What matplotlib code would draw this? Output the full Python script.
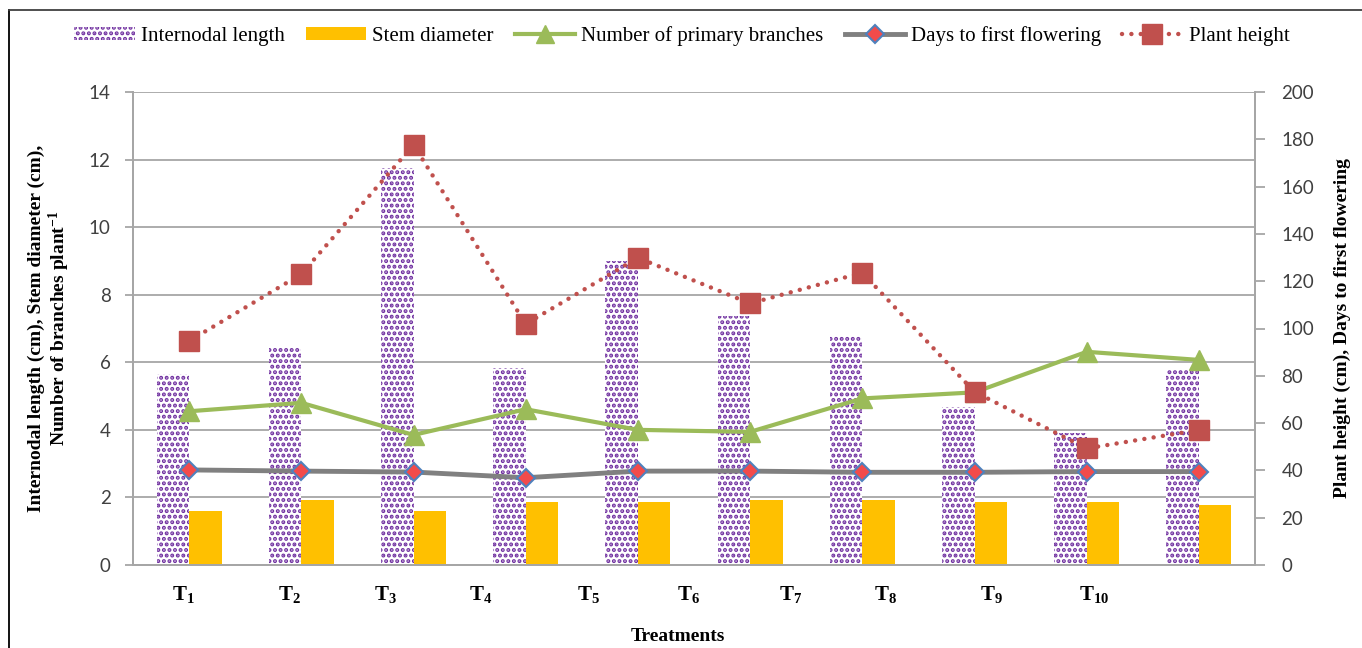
import matplotlib
matplotlib.use("Agg")
import matplotlib.pyplot as plt
import numpy as np
from matplotlib.lines import Line2D
from matplotlib.patches import Patch

treatments = ["T$_{1}$", "T$_{2}$", "T$_{3}$", "T$_{4}$", "T$_{5}$",
              "T$_{6}$", "T$_{7}$", "T$_{8}$", "T$_{9}$", "T$_{10}$"]
internodal_length = [5.64, 6.44, 11.74, 5.82, 9.00, 7.38, 6.79, 4.67, 3.90, 5.79]
stem_diameter = [1.61, 1.92, 1.61, 1.86, 1.86, 1.92, 1.92, 1.86, 1.86, 1.77]
primary_branches = [4.55, 4.80, 3.85, 4.61, 4.00, 3.94, 4.93, 5.11, 6.31, 6.07]
days_to_flowering = [40.2, 39.7, 39.3, 36.9, 39.7, 39.7, 39.2, 39.2, 39.5, 39.5]
plant_height = [94.7, 123.0, 177.6, 101.9, 129.9, 110.6, 123.6, 73.2, 49.3, 57.1]

# layout: the original x tick labels are offset from the groups
label_pos = [-0.05, 0.89, 1.75, 2.60, 3.56, 4.45, 5.36, 6.21, 7.15, 8.07]

plt.rcParams['hatch.linewidth'] = 2.0
plt.rcParams['hatch.color'] = '#7030A0'

serif = ['Liberation Serif', 'DejaVu Serif']
sans = ['Lato', 'Open Sans', 'DejaVu Sans']
plt.rcParams['mathtext.fontset'] = 'custom'
plt.rcParams['mathtext.rm'] = 'Liberation Serif:bold'
plt.rcParams['mathtext.it'] = 'Liberation Serif:bold'
plt.rcParams['mathtext.bf'] = 'Liberation Serif:bold'

fig = plt.figure(figsize=(13.62, 6.48), dpi=100)
ax = fig.add_axes([133/1362, 1-565/648, (1255-133)/1362, (565-92)/648])
ax2 = ax.twinx()

x = np.arange(len(treatments))
w = 0.29
ax.bar(x - w/2, internodal_length, w, facecolor='white', edgecolor='#7030A0',
       hatch='...', linewidth=0, zorder=2)
ax.bar(x + w/2, stem_diameter, w, color='#FFC000', linewidth=0, zorder=2)
ax.plot(x, primary_branches, color='#9BBB59', lw=3, marker='^', ms=15,
        markerfacecolor='#9BBB59', markeredgecolor='#9BBB59', zorder=4)

ax2.plot(x, days_to_flowering, color='#808080', lw=3.5, marker='D', ms=9,
         markerfacecolor='#F24B4B', markeredgecolor='#4F81BD', markeredgewidth=1.5, zorder=4)
ax2.plot(x, plant_height, color='#C0504D', lw=3.2, ls=(0, (0.01, 2.1)),
         dash_capstyle='round', marker='s', ms=15, markerfacecolor='#C0504D',
         markeredgecolor='#C0504D', zorder=5)

ax.set_xlim(-0.5, 9.5)
ax.set_ylim(0, 14)
ax.set_yticks(np.arange(0, 15, 2))
ax2.set_ylim(0, 200)
ax2.set_yticks(np.arange(0, 201, 20))

ax.yaxis.grid(True, color='#A6A6A6', lw=1.3)
ax.set_axisbelow(True)
ax.set_zorder(ax2.get_zorder() - 1)
ax.patch.set_visible(True)
ax2.patch.set_visible(False)

for a in (ax, ax2):
    a.spines['top'].set_visible(False)
    for s in ('left', 'right', 'bottom'):
        a.spines[s].set_color('#A6A6A6')
        a.spines[s].set_linewidth(1.3)

ax.set_xticks(label_pos)
ax.set_xticklabels(treatments, fontfamily=serif, fontweight='bold', fontsize=15)
ax.tick_params(axis='x', length=0, pad=14)
ax.tick_params(axis='y', length=6, color='#A6A6A6', width=1.3, labelsize=13.5,
               labelcolor='#404040', pad=10)
ax2.tick_params(axis='y', length=7, color='#A6A6A6', width=1.3, labelsize=13.5,
                labelcolor='#404040', pad=12)
for lab in ax.get_yticklabels() + ax2.get_yticklabels():
    lab.set_fontfamily(sans)

ax.set_ylabel("Internodal length (cm), Stem diameter (cm),\nNumber of branches plant$^{-1}$",
              fontfamily=serif, fontweight='bold', fontsize=14, labelpad=12, linespacing=1.1)
ax2.set_ylabel("Plant height (cm), Days to first flowering", fontfamily=serif,
               fontweight='bold', fontsize=14, labelpad=14, rotation=90)
ax.set_xlabel("Treatments", fontfamily=serif, fontweight='bold', fontsize=14, labelpad=18)
ax.xaxis.set_label_coords((678-133)/(1255-133), -(628-565)/(565-92))

handles = [
    Patch(facecolor='white', edgecolor='#7030A0', hatch='...', linewidth=0),
    Patch(facecolor='#FFC000', linewidth=0),
    Line2D([], [], color='#9BBB59', lw=3, marker='^', ms=13, markeredgecolor='#9BBB59'),
    Line2D([], [], color='#808080', lw=3.5, marker='D', ms=9, markerfacecolor='#F24B4B',
           markeredgecolor='#4F81BD', markeredgewidth=1.5),
    Line2D([], [], color='#C0504D', lw=3.2, ls=(0, (0.01, 2.1)), dash_capstyle='round',
           marker='s', ms=14, markerfacecolor='#C0504D', markeredgecolor='#C0504D'),
]
labels = ["Internodal length", "Stem diameter", "Number of primary branches",
          "Days to first flowering", "Plant height"]
fig.legend(handles, labels, loc='center', bbox_to_anchor=(682/1362, 1-36/648), ncol=5,
           frameon=False, prop={'family': serif, 'size': 15}, handlelength=2.9,
           handleheight=0.6, columnspacing=1.0, handletextpad=0.3)

# partial figure border (left and top edges)
fig.add_artist(Line2D([9/1362, 9/1362], [0, 1-10/648], color='black', lw=1.3,
                      transform=fig.transFigure))
fig.add_artist(Line2D([9/1362, 1], [1-10/648, 1-10/648], color='#404040', lw=1.3,
                      transform=fig.transFigure))

fig.savefig("out.png", dpi=100)
